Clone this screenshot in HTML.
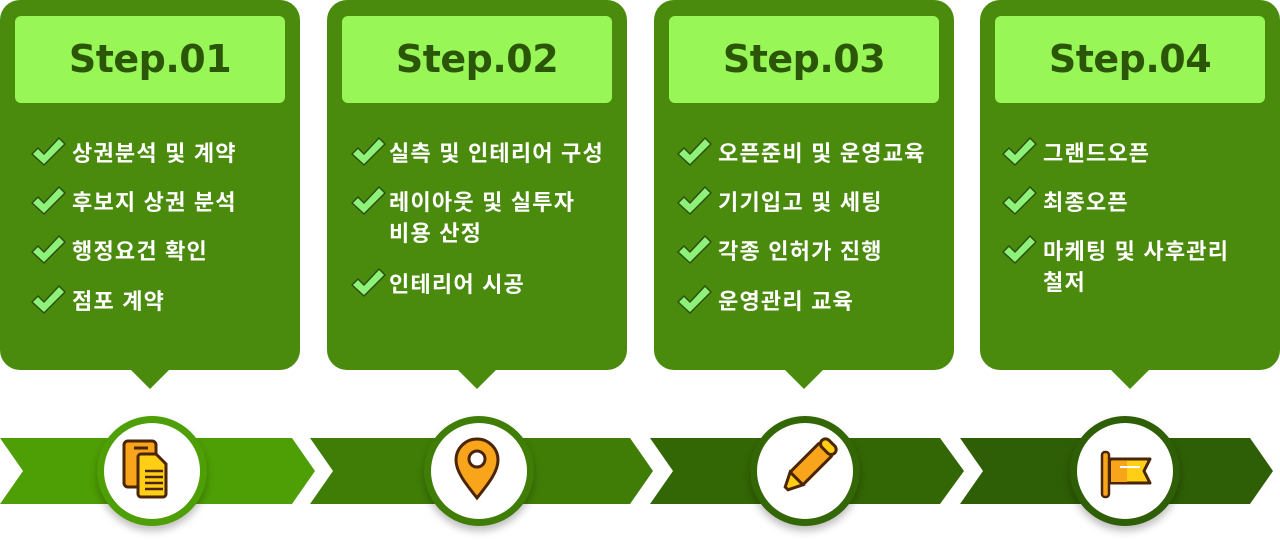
<!DOCTYPE html>
<html><head><meta charset="utf-8"><style>
body{margin:0;width:1280px;height:540px;background:#fff;position:relative;overflow:hidden;font-family:"Liberation Sans","Noto Sans CJK KR",sans-serif}
.card{position:absolute;top:0;width:300px;height:370px;background:#4a8a0c;border-radius:20px}
.card:after{content:"";position:absolute;left:130px;top:369px;width:0;height:0;border-left:20px solid transparent;border-right:20px solid transparent;border-top:20px solid #4a8a0c}
.hd{position:absolute;left:15px;top:16px;width:270px;height:87px;background:#98f757;border-radius:6px;text-align:center;line-height:87px;font-family:"DejaVu Sans",sans-serif;font-size:38px;font-weight:bold;color:#2c5607;letter-spacing:-0.5px}
.it{position:absolute;color:#fff;font-size:22px;font-weight:bold;line-height:31px;white-space:nowrap;letter-spacing:1.2px}
.circ{position:absolute;top:416px;width:96px;height:96px;border-radius:50%;background:#fff;box-shadow:0 5px 8px rgba(0,0,0,.25)}
</style></head><body>
<svg width="1280" height="540" style="position:absolute;left:0;top:0">
<polygon points="0,438 292,438 315,471 292,504 0,504 23,471" fill="#4e9e05"/>
<polygon points="310,438 630,438 653,471 630,504 310,504 333,471" fill="#3f7d07"/>
<polygon points="650,438 940,438 964,471 940,504 650,504 673,471" fill="#336604"/>
<polygon points="960,438 1250,438 1273,471 1250,504 960,504 983,471" fill="#2e5e05"/>
</svg>

<div class="card" style="left:0"><div class="hd">Step.01</div></div>
<div class="card" style="left:327px"><div class="hd">Step.02</div></div>
<div class="card" style="left:654px"><div class="hd">Step.03</div></div>
<div class="card" style="left:980px"><div class="hd">Step.04</div></div>

<div class="it" style="left:72px;top:138px">상권분석 및 계약</div>
<div class="it" style="left:72px;top:187px">후보지 상권 분석</div>
<div class="it" style="left:72px;top:236px">행정요건 확인</div>
<div class="it" style="left:72px;top:286px">점포 계약</div>

<div class="it" style="left:389px;top:138px">실측 및 인테리어 구성</div>
<div class="it" style="left:389px;top:187px">레이아웃 및 실투자<br>비용 산정</div>
<div class="it" style="left:389px;top:269px">인테리어 시공</div>

<div class="it" style="left:718px;top:138px">오픈준비 및 운영교육</div>
<div class="it" style="left:718px;top:187px">기기입고 및 세팅</div>
<div class="it" style="left:718px;top:236px">각종 인허가 진행</div>
<div class="it" style="left:718px;top:286px">운영관리 교육</div>

<div class="it" style="left:1043px;top:138px">그랜드오픈</div>
<div class="it" style="left:1043px;top:187px">최종오픈</div>
<div class="it" style="left:1043px;top:236px">마케팅 및 사후관리<br>철저</div>

<svg width="1280" height="540" style="position:absolute;left:0;top:0">
<defs><g id="ck"><path d="M1,16 L7,10 L13,16 L28,0 L34,6 L13,27 Z" fill="#8ef27a" stroke="#2d5010" stroke-width="1.5" stroke-linejoin="round"/></g></defs>
<use href="#ck" x="31" y="138"/><use href="#ck" x="31" y="187"/><use href="#ck" x="31" y="236"/><use href="#ck" x="31" y="286"/>
<use href="#ck" x="351" y="138"/><use href="#ck" x="351" y="187"/><use href="#ck" x="351" y="269"/>
<use href="#ck" x="677" y="138"/><use href="#ck" x="677" y="187"/><use href="#ck" x="677" y="236"/><use href="#ck" x="677" y="286"/>
<use href="#ck" x="1002" y="138"/><use href="#ck" x="1002" y="187"/><use href="#ck" x="1002" y="236"/>
</svg>

<div class="circ" style="left:97px;border:7px solid #4e9e05"></div>
<div class="circ" style="left:424px;border:7px solid #3f7d07"></div>
<div class="circ" style="left:750px;border:7px solid #336604"></div>
<div class="circ" style="left:1070px;border:7px solid #2e5e05"></div>

<svg width="1280" height="540" style="position:absolute;left:0;top:0">
<rect x="124" y="441" width="32" height="46" rx="4" fill="#f9a51b" stroke="#4a2506" stroke-width="3"/>
<line x1="134" y1="448" x2="148" y2="448" stroke="#4a2506" stroke-width="3"/>
<path d="M141,454 h15 l10,10 v30 a3,3 0 0 1 -3,3 h-22 a3,3 0 0 1 -3,-3 v-37 a3,3 0 0 1 3,-3z" fill="#ffcf15" stroke="#4a2506" stroke-width="3"/>
<g stroke="#4a2506" stroke-width="2.5"><line x1="145" y1="471" x2="163" y2="471"/><line x1="145" y1="477" x2="163" y2="477"/><line x1="145" y1="483" x2="163" y2="483"/><line x1="145" y1="489" x2="163" y2="489"/></g>
<path d="M477,498 C466,484 456,472 456,460 a21,21 0 0 1 42,0 C498,472 488,484 477,498z" fill="#f9a51b" stroke="#4a2506" stroke-width="3"/>
<circle cx="477" cy="459" r="8" fill="#fff" stroke="#4a2506" stroke-width="3"/>
<g transform="translate(805,470) rotate(45)">
<rect x="-9" y="-30" width="18" height="42" rx="2" fill="#f9a51b" stroke="#4a2506" stroke-width="3"/>
<rect x="-9" y="-38" width="18" height="10" rx="5" fill="#ffcf15" stroke="#4a2506" stroke-width="3"/>
<path d="M-9,12 L9,12 L2,26 L-2,26 Z" fill="#ffcf15" stroke="#4a2506" stroke-width="3"/>
</g>
<rect x="1102" y="452" width="7" height="45" rx="3" fill="#f9a51b" stroke="#4a2506" stroke-width="2.5"/>
<path d="M1110,459 h40 l-6,12 l6,12 h-40z" fill="#ffcf15" stroke="#4a2506" stroke-width="3" stroke-linejoin="round"/>
<rect x="1111" y="461" width="16" height="21" fill="#f9a51b"/>
<line x1="1120" y1="467" x2="1140" y2="467" stroke="#fff" stroke-width="2"/>
</svg>
</body></html>
